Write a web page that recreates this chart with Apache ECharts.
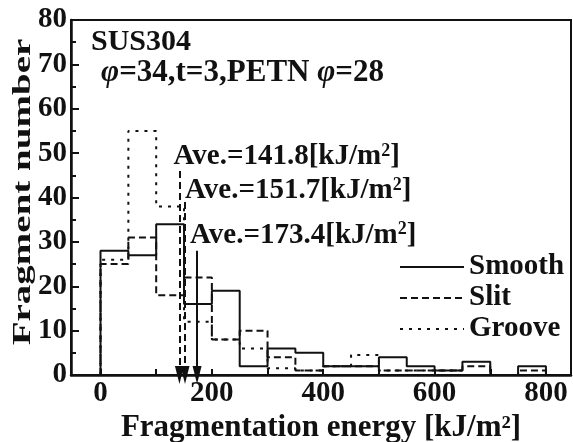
<!DOCTYPE html>
<html><head><meta charset="utf-8">
<script src="https://cdn.jsdelivr.net/npm/echarts@6/dist/echarts.min.js"></script>
<style>html,body{margin:0;padding:0;background:#fff}#c{width:573px;height:442px}</style>
</head><body><div id="c"></div>
<script>
// Histogram bins (left edges, width 50 kJ/m2)
const binEdges = [0,50,100,150,200,250,300,350,400,450,500,550,600,650,700,750];
const binEnd = 800;
const smooth = [28,27,34,16,19,2,6,5,2,2,4,2,1,3,0,2];
const slit   = [25,31,18,22,8,10,4,1,2,2,1,1,1,2,0,1];
const groove = [26,55,38,12,8,6,1.5,1,2,4.5,1,1,1,0,0,0];
const seriesNames = ['Smooth','Slit','Groove'];
// Average markers
const aveX = [173.4, 151.7, 141.8];
const aveTop = [28, 39, 46];
const aveText = ['173.4','151.7','141.8'];
const labelShift = [[-7,0],[0,4],[-6,1]];
const yTicks = {min:0, max:80, interval:10};
const xTickValues = [0,100,200,300,400,500,600,700,800];
const xLabelValues = [0,200,400,600,800];

const FONT = '"Liberation Serif","Times New Roman",serif';
const INK = '#111';
const lineTypes = ['solid',[7,4],[3,6]];

function steps(vals){
  const d = [[binEdges[0],0]];
  vals.forEach((v,i)=>d.push([binEdges[i],v]));
  d.push([binEnd,0]);
  return d;
}
const allVals = [smooth, slit, groove];

const chart = echarts.init(document.getElementById('c'), null, {renderer:'canvas'});
const series = seriesNames.map((name,i)=>({
  name, type:'line', step:'end', symbol:'none', data: steps(allVals[i]),
  lineStyle:{color:INK, width:2, type: lineTypes[i]},
  itemStyle:{color:INK},
  z: 3 - i,
  markLine:{
    silent:true, symbol:['none','triangle'], symbolSize:[9,18],
    lineStyle:{color:INK, width:2, type: i===0 ? 'solid' : [7,4]},
    label:{show:true, position:'start', distance:0,
      formatter: '{a|Ave.=' + aveText[i] + '[kJ/m}{s|2}{a|]}',
      align:'left', verticalAlign:'bottom', offset: labelShift[i],
      rich:{
        a:{fontFamily:FONT, fontWeight:'bold', fontSize:29, color:INK, lineHeight:30},
        s:{fontFamily:FONT, fontWeight:'bold', fontSize:18, color:INK, verticalAlign:'top', lineHeight:18}
      }},
    data:[[{coord:[aveX[i], aveTop[i]]},{coord:[aveX[i], 0]}]]
  }
}));

chart.setOption({
  animation:false,
  backgroundColor:'#fff',
  title:[
    {text:'SUS304', left:91, top:27, padding:0,
      textStyle:{fontFamily:FONT, fontWeight:'bold', fontSize:30, color:INK}},
    {text:'{i|φ}=34,t=3,PETN {i|φ}=28', left:101, top:57, padding:0,
      textStyle:{fontFamily:FONT, fontWeight:'bold', fontSize:31, color:INK,
        rich:{i:{fontFamily:FONT, fontWeight:'bold', fontStyle:'italic', fontSize:31, color:INK}}}}
  ],
  legend:{
    data:seriesNames, orient:'vertical', left:394, top:247, itemWidth:64, itemHeight:14, itemGap:1,
    itemStyle:{color:'transparent', borderColor:'transparent', borderWidth:0},
    textStyle:{fontFamily:FONT, fontWeight:'bold', fontSize:29, color:INK, lineHeight:30}
  },
  grid:{left:71, right:2, top:20, bottom:67, show:true, borderColor:INK, borderWidth:2,
    containLabel:false, outerBoundsMode:'none'},
  xAxis:{
    type:'value', min:-53, max:845,
    axisLine:{onZero:false, lineStyle:{color:INK, width:2.5}},
    axisTick:{inside:true, length:6, customValues:xTickValues, lineStyle:{color:INK, width:2}},
    axisLabel:{customValues:xLabelValues, margin:4, fontFamily:FONT, fontWeight:'bold', fontSize:29, color:INK},
    splitLine:{show:false},
    name:'Fragmentation energy [kJ/m²]', nameLocation:'middle', nameGap:37,
    nameTextStyle:{fontFamily:FONT, fontWeight:'bold', fontSize:31, color:INK}
  },
  yAxis:{
    type:'value', min:yTicks.min, max:yTicks.max, interval:yTicks.interval,
    axisLine:{show:true, onZero:false, lineStyle:{color:INK, width:2.5}},
    axisTick:{inside:true, length:8, lineStyle:{color:INK, width:2}},
    minorTick:{show:true, splitNumber:2, length:5, lineStyle:{color:INK, width:2}},
    axisLabel:{margin:4, fontFamily:FONT, fontWeight:'bold', fontSize:29, color:INK},
    splitLine:{show:false}
  },
  graphic:[{
    type:'text', x:23, y:192, rotation:Math.PI/2, scaleX:1.5, scaleY:1,
    style:{text:'Fragment number', fontFamily:FONT, fontWeight:'bold', fontSize:26, fill:INK,
      textAlign:'center', textVerticalAlign:'middle'}
  }],
  series
});
</script></body></html>
